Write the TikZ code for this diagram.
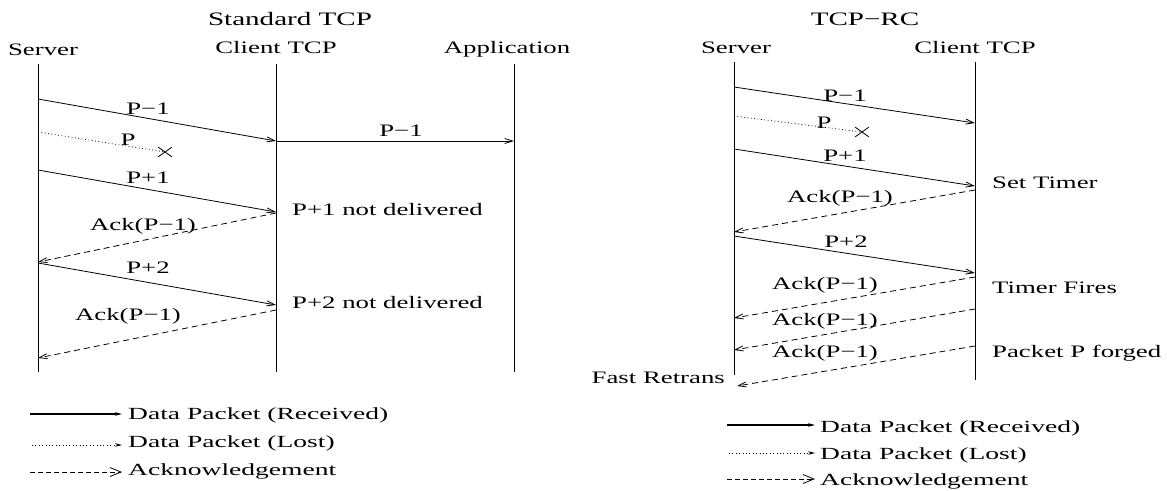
\documentclass[tikz,border=0pt]{standalone}
\usepackage{fontspec}
\setmainfont{Liberation Serif}[FakeStretch=1.53]
\newfontfamily\legfont{Liberation Serif}[FakeStretch=1.62]
\usetikzlibrary{arrows.meta,shapes.misc}
\begin{document}
\begin{tikzpicture}[x=1pt,y=-1pt,
  lbl/.style={font=\fontsize{17.5}{20}\selectfont, inner sep=0pt},
  ttl/.style={font=\fontsize{19}{22}\selectfont, inner sep=0pt, anchor=base},
  leg/.style={font=\legfont\fontsize{17}{20}\selectfont, inner sep=0pt, anchor=west},
  life/.style={line width=0.9pt},
  data/.style={line width=0.8pt,-{Straight Barb[length=8pt,width=5pt]}},
  lost/.style={line width=0.8pt, dash pattern=on 0.8pt off 2.6pt},
  ack/.style={line width=0.8pt, dash pattern=on 6pt off 4pt,-{Straight Barb[length=8pt,width=5pt]}},
  xmark/.style={cross out, draw, line width=0.8pt, minimum width=13pt, minimum height=9pt, inner sep=0pt},
  legdata/.style={line width=1.2pt,-{Stealth[length=7pt,width=3.5pt]}},
  leglost/.style={line width=0.7pt, dash pattern=on 0.8pt off 2.6pt,-{Stealth[length=7pt,width=3.5pt]}},
  legack/.style={line width=0.8pt, dash pattern=on 5pt off 3pt,-{Straight Barb[length=11pt,width=9pt]}}
]
\useasboundingbox (0,0) rectangle (1167,490);

% ---------------- Standard TCP ----------------
\node[ttl] (t1) at (290,25) {Standard TCP};
\node[lbl,anchor=base] (hS) at (43,55) {Server};
\node[lbl,anchor=base] (hC) at (276,53) {Client TCP};
\node[lbl,anchor=base] (hA) at (507,53) {Application};

\coordinate (sT) at (38,64);  \coordinate (sB) at (38,372);
\coordinate (cT) at (276,64); \coordinate (cB) at (276,372);
\coordinate (aT) at (514,64); \coordinate (aB) at (514,372);
\draw[life] (sT) -- (sB);
\draw[life] (cT) -- (cB);
\draw[life] (aT) -- (aB);

\coordinate (a1) at (38,99);  \coordinate (b1) at (276,141);
\coordinate (c1) at (514,141);
\coordinate (a2) at (38,132); \node[xmark] (x1) at (165,152) {};
\coordinate (a3) at (38,170); \coordinate (b3) at (276,212);
\coordinate (b4) at (276,213); \coordinate (a4) at (38,262);
\coordinate (a5) at (38,263); \coordinate (b5) at (276,305);
\coordinate (b6) at (276,310); \coordinate (a6) at (38,358);

\draw[data] (a1) -- (b1);
\draw[data] (b1) -- (c1);
\draw[lost] (a2) -- (x1.center);
\draw[data] (a3) -- (b3);
\draw[ack] (b4) -- (a4);
\draw[data] (a5) -- (b5);
\draw[ack] (b6) -- (a6);

\node[lbl] (l1) at (148,109) {P−1};
\node[lbl] (l2) at (128,140) {P};
\node[lbl] (l3) at (401,131) {P−1};
\node[lbl] (l4) at (148,178) {P+1};
\node[lbl] (l5) at (143,226) {Ack(P−1)};
\node[lbl] (l6) at (148,268) {P+2};
\node[lbl] (l7) at (128,316) {Ack(P−1)};
\node[lbl,anchor=west] (n1) at (292,210) {P+1 not delivered};
\node[lbl,anchor=west] (n2) at (292,303) {P+2 not delivered};

% legend left
\node[leg] (L1) at (128,415) {Data Packet (Received)};
\node[leg] (L2) at (128,443) {Data Packet (Lost)};
\node[leg] (L3) at (128,471) {Acknowledgement};
\coordinate (g1) at (30,414);
\coordinate (g2) at (32,445);
\coordinate (g3) at (30,472);
\draw[legdata] (g1) -- ([xshift=-6pt]L1.west |- g1);
\draw[leglost] (g2) -- ([xshift=-6pt]L2.west |- g2);
\draw[legack] (g3) -- ([xshift=-6pt]L3.west |- g3);

% ---------------- TCP-RC ----------------
\node[ttl] (t2) at (865,25) {TCP−RC};
\node[lbl,anchor=base] (hS2) at (736,53) {Server};
\node[lbl,anchor=base] (hC2) at (975,53) {Client TCP};

\coordinate (rT) at (734,62);  \coordinate (rB) at (734,375);
\coordinate (qT) at (975,62);  \coordinate (qB) at (975,380);
\draw[life] (rT) -- (rB);
\draw[life] (qT) -- (qB);

\coordinate (r1) at (734,87);  \coordinate (q1) at (975,123);
\coordinate (r2) at (734,116); \node[xmark] (x2) at (862,132) {};
\coordinate (r3) at (734,149); \coordinate (q3) at (975,186);
\coordinate (q4) at (975,190); \coordinate (r4) at (734,232);
\coordinate (r5) at (734,236); \coordinate (q5) at (975,273);
\coordinate (q6) at (975,277); \coordinate (r6) at (734,318);
\coordinate (q7) at (975,309); \coordinate (r7) at (734,350);
\coordinate (q8) at (975,346); \coordinate (r8) at (737,386);

\draw[data] (r1) -- (q1);
\draw[lost] (r2) -- (x2.center);
\draw[data] (r3) -- (q3);
\draw[ack] (q4) -- (r4);
\draw[data] (r5) -- (q5);
\draw[ack] (q6) -- (r6);
\draw[ack] (q7) -- (r7);
\draw[ack] (q8) -- (r8);

\node[lbl] (m1) at (845,96) {P−1};
\node[lbl] (m2) at (824,123) {P};
\node[lbl] (m3) at (845,156) {P+1};
\node[lbl] (m4) at (840,198) {Ack(P−1)};
\node[lbl] (m5) at (846,242) {P+2};
\node[lbl] (m6) at (825,285) {Ack(P−1)};
\node[lbl] (m7) at (825,321) {Ack(P−1)};
\node[lbl] (m8) at (825,353) {Ack(P−1)};
\node[lbl,anchor=west] (e1) at (992,183) {Set Timer};
\node[lbl,anchor=west] (e2) at (992,288) {Timer Fires};
\node[lbl,anchor=west] (e3) at (992,353) {Packet P forged};
\node[lbl,anchor=east] (e4) at (725,378) {Fast Retrans};

% legend right
\node[leg] (R1) at (820,428) {Data Packet (Received)};
\node[leg] (R2) at (820,455) {Data Packet (Lost)};
\node[leg] (R3) at (820,481) {Acknowledgement};
\coordinate (h1) at (727,425);
\coordinate (h2) at (729,453);
\coordinate (h3) at (727,479);
\draw[legdata] (h1) -- ([xshift=-5pt]R1.west |- h1);
\draw[leglost] (h2) -- ([xshift=-5pt]R2.west |- h2);
\draw[legack] (h3) -- ([xshift=-5pt]R3.west |- h3);
\end{tikzpicture}
\end{document}
